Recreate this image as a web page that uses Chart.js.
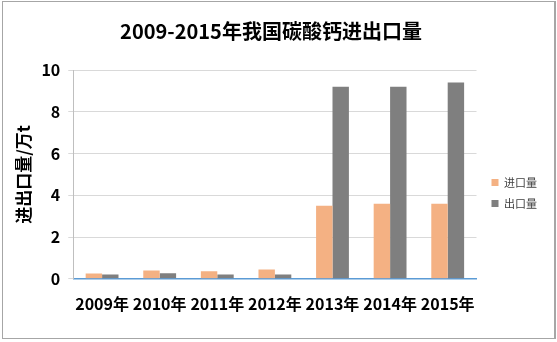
<!DOCTYPE html>
<html>
<head>
<meta charset="utf-8">
<script src="https://cdn.jsdelivr.net/npm/chart.js@4/dist/chart.umd.min.js"></script>
<style>
  html, body { margin: 0; padding: 0; background: #fff; }
  #wrap { position: relative; width: 557px; height: 342px; }
  #frame { position: absolute; left: 2px; top: 1px; width: 551px; height: 336px;
           border: 1px solid #a6a6a6; border-right: 2px solid #a6a6a6; pointer-events: none; }
</style>
</head>
<body>
<div id="wrap">
  <canvas id="c" width="557" height="342"></canvas>
  <div id="frame"></div>
</div>
<script>
// 数据
const years = ['2009年', '2010年', '2011年', '2012年', '2013年', '2014年', '2015年'];
const importVals = [0.25, 0.4, 0.36, 0.45, 3.5, 3.6, 3.6];
const exportVals = [0.2, 0.27, 0.2, 0.2, 9.2, 9.2, 9.4];
const yTicks = [0, 2, 4, 6, 8, 10];

const FONT = '"Noto Sans CJK SC", "Noto Sans", sans-serif';

// 图例往右下挪一点
const legendNudge = {
  id: 'legendNudge',
  afterLayout(chart) {
    const lg = chart.legend;
    if (!lg) return;
    lg.left += 5; lg.right += 5;
    lg.top += 29; lg.bottom += 29;
  }
};

new Chart(document.getElementById('c'), {
  type: 'bar',
  data: {
    labels: years,
    datasets: [
      { label: '进口量', data: importVals, backgroundColor: '#F4B183' },
      { label: '出口量', data: exportVals, backgroundColor: '#7F7F7F' }
    ]
  },
  options: {
    responsive: false,
    animation: false,
    layout: { padding: { left: 0, right: 15, top: 6, bottom: 20 } },
    datasets: { bar: { categoryPercentage: 0.57, barPercentage: 1 } },
    scales: {
      x: {
        grid: { display: false },
        border: { color: '#5B9BD5', width: 1.5 },
        ticks: { color: '#000', font: { family: FONT, size: 16, weight: 'bold' }, padding: 8, maxRotation: 0 }
      },
      y: {
        min: 0, max: 10,
        afterBuildTicks: axis => { axis.ticks = yTicks.map(v => ({ value: v })); },
        grid: { color: '#d9d9d9', tickLength: 5 },
        border: { color: '#bfbfbf' },
        ticks: { color: '#000', font: { family: FONT, size: 16, weight: 'bold' }, padding: 8 },
        title: { display: true, text: '进出口量/万t', color: '#000',
                 font: { family: FONT, size: 17, weight: 'bold' }, padding: { top: 13, bottom: 0 } }
      }
    },
    plugins: {
      title: { display: true, text: '2009-2015年我国碳酸钙进出口量', color: '#000',
               font: { family: FONT, size: 20, weight: 'bold' }, padding: { top: 13, bottom: 27 } },
      legend: {
        position: 'right',
        labels: { boxWidth: 7, boxHeight: 7, color: '#404040', padding: 10,
                  font: { family: FONT, size: 11 } }
      },
      tooltip: { enabled: false }
    }
  },
  plugins: [legendNudge]
});
</script>
</body>
</html>
